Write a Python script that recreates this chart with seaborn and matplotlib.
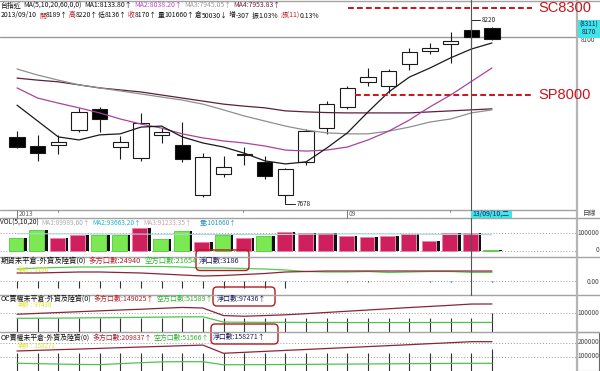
import numpy as np
import matplotlib
matplotlib.use("Agg")
import matplotlib.pyplot as plt
import seaborn as sns
from matplotlib.patches import FancyBboxPatch, Rectangle

# ---------------- data ----------------
candle_idx = list(range(24))
opens  = [7874, 7847, 7850, 7894, 7957, 7844, 7812, 7880, 7850, 7702, 7764, 7820,
          7800, 7702, 7800, 7900, 7963, 8037, 8025, 8090, 8128, 8149, 8189, 8196]
highs  = [7891, 7880, 7880, 7960, 7962, 7877, 7945, 7900, 7918, 7826, 7817, 7844,
          7817, 7782, 7897, 7980, 8025, 8078, 8075, 8137, 8152, 8184, 8220, 8198]
lows   = [7841, 7803, 7823, 7888, 7888, 7809, 7803, 7856, 7800, 7696, 7755, 7791,
          7749, 7678, 7791, 7883, 7957, 8025, 8004, 8072, 8119, 8093, 8136, 8160]
closes = [7844, 7826, 7859, 7948, 7927, 7859, 7915, 7888, 7809, 7815, 7785, 7823,
          7758, 7779, 7891, 7971, 8019, 8051, 8069, 8125, 8137, 8159, 8170, 8164]
prev_close_before_first = 7880

ma5  = [7968, 7921, 7874, 7865, 7880, 7883, 7903, 7906, 7874, 7856, 7844, 7826,
        7803, 7794, 7800, 7841, 7886, 7948, 8007, 8051, 8078, 8108, 8134, 8152]
ma10 = [8019, 7989, 7974, 7960, 7945, 7927, 7912, 7900, 7883, 7871, 7862, 7856,
        7847, 7835, 7832, 7835, 7844, 7865, 7891, 7924, 7963, 7998, 8038, 8078]
ma20 = [8075, 8057, 8042, 8028, 8019, 8010, 8001, 7992, 7983, 7971, 7954, 7936,
        7921, 7906, 7894, 7886, 7883, 7883, 7891, 7903, 7918, 7927, 7945, 7954]
ma60 = [8048, 8042, 8037, 8028, 8019, 8013, 8007, 7998, 7989, 7980, 7971, 7965,
        7960, 7951, 7948, 7946, 7945, 7945, 7945, 7945, 7948, 7951, 7954, 7957]

volume = [72000, 117000, 72000, 89000, 89000, 89000, 128000, 67000, 111000, 50000, 89000, 72000,
          83000, 105000, 100000, 100000, 83000, 78000, 83000, 94000, 56000, 100000, 101660, 3000]
vol_ma = [96000, 96000, 95000, 95000, 94000, 94000, 94000, 93000, 93000, 92000, 92000, 92000,
          92000, 92000, 93000, 94000, 95000, 95000, 95000, 94000, 93000, 92000, 93663, 90000]

fut_long  = [20000, 20000, 21250, 22500, 22500, 21250, 20000, 17500, 15000, 12500, 13750, 16250,
             18750, 22500, 23750, 25000, 25000, 25000, 25000, 25000, 25000, 25000, 24940, 24940]
fut_short = [30000, 32500, 33750, 35000, 35000, 36250, 36250, 36250, 35000, 32500, 32500, 31250,
             30000, 27500, 23750, 22500, 22500, 23750, 21250, 22500, 23750, 23750, 21654, 21654]
fut_tick  = [-17500, -17500, -17500, -17500, -17500, -17500, -17500, -17500, -17500, -17500, -17500, -17500,
             -17500, -17500, 0, 0, -1500, -1500, 0, 0, -1500, -1500, 0, -1500]

oc_long  = [95000, 99500, 104000, 108500, 113000, 117500, 121500, 126500, 131000, 128000, 88000, 84500,
            88000, 92000, 98000, 104500, 111000, 117500, 124000, 130500, 136500, 142500, 149025, 149400]
oc_short = [73500, 74000, 74500, 75500, 76500, 77500, 78500, 80000, 81000, 81500, 53500, 52500,
            52000, 52000, 51500, 51500, 51000, 51000, 51000, 51000, 51500, 51500, 51589, 51600]
oc_tick  = [75000, 75000, 75000, 75000, 75000, 75000, 75000, 75000, 75000, 75000, 75000, 75000,
            75000, 75000, 75000, 75000, 75000, 75000, 75000, 75000, 75000, 75000, 75000, 101600]

op_long  = [141700, 146500, 151500, 156000, 161000, 166000, 171000, 175500, 180500, 185000, 125000, 132000,
            139000, 146000, 153000, 160000, 167000, 174000, 181000, 188000, 195500, 202500, 209837, 210000]
op_short = [52000, 49000, 46000, 43500, 42000, 49000, 56000, 62000, 63500, 63500, 41000, 41500,
            42000, 43000, 44000, 45000, 46000, 47000, 48000, 49000, 50000, 51000, 51566, 51600]
op_tick  = [127000, 127000, 127000, 127000, 127000, 127000, 127000, 127000, 127000, 127000, 127000, 127000,
            127000, 127000, 127000, 127000, 127000, 127000, 127000, 127000, 127000, 127000, 127000, 156000]

# ---------------- setup ----------------
W, H = 600, 371
sns.set_style("white")
plt.rcParams['font.family'] = ['Noto Sans CJK TC', 'DejaVu Sans']
plt.rcParams['axes.unicode_minus'] = False

fig = plt.figure(figsize=(W / 100, H / 100), dpi=100)
fig.patch.set_facecolor('white')

X0_PX, STEP_PX, RIGHT_PX = 17.0, 20.65, 576.0
XL = -X0_PX / STEP_PX
XR = (RIGHT_PX - X0_PX) / STEP_PX
idx = np.array(candle_idx)


def panel(y0, y1):
    ax = fig.add_axes([0, 1 - y1 / H, RIGHT_PX / W, (y1 - y0) / H])
    ax.set_axis_off()
    return ax


def limits(ax, ylo, yhi):
    ax.set_xlim(XL, XR)
    ax.set_ylim(ylo, yhi)


def line(ax, ys, color, lw=0.9, z=4):
    sns.lineplot(x=idx, y=ys, ax=ax, color=color, lw=lw, zorder=z, legend=False,
                 sort=False, estimator=None)


# ---------------- main price chart ----------------
ax = panel(0, 210)
ax.axhline(8170, color='#9a9a9a', lw=1.0, zorder=1)
ax.vlines(idx, lows, highs, color='#1a1a1a', lw=0.8, zorder=2)
o = np.array(opens); c = np.array(closes)
bottom = np.minimum(o, c)
height = np.maximum(np.abs(c - o), 1.5)
fills = ['white' if cc >= oo else 'black' for oo, cc in zip(opens, closes)]
ax.bar(idx, height, bottom=bottom, width=0.74, color=fills, edgecolor='#1a1a1a',
       lw=0.8, zorder=3)
line(ax, ma60, '#5c1f3c')
line(ax, ma20, '#8f8f8f')
line(ax, ma10, '#a8449f')
line(ax, ma5, '#1a1a1a')
# high / low markers
i_hi = int(np.argmax(highs)); i_lo = int(np.argmin(lows))
ax.plot([i_hi, i_hi + 0.42], [highs[i_hi]] * 2, color='#222', lw=0.7, zorder=5)
ax.text(i_hi + 0.5, highs[i_hi], f"{highs[i_hi]}", fontsize=4.6, va='center', ha='left',
        color='#222', zorder=6)
ax.plot([i_lo, i_lo, i_lo + 0.47], [lows[i_lo], lows[i_lo] - 3, lows[i_lo] - 3], color='#222',
        lw=0.7, zorder=5)
ax.text(i_lo + 0.55, lows[i_lo] - 2, f"{lows[i_lo]}", fontsize=4.6, va='center', ha='left',
        color='#222', zorder=6)
limits(ax, 7657.6, 8279.2)

# ---------------- volume ----------------
axv = panel(218, 257)
axv.axhline(100000, color='#999', lw=0.7, ls=(0, (1, 2)), zorder=1)
axv.axhline(0, color='#999', lw=0.7, ls=(0, (1, 2)), zorder=1)
prev = [prev_close_before_first] + closes[:-1]
up = [cc >= pp for cc, pp in zip(closes, prev)]
vcol = ['#cf1f5c' if u else '#7bea52' for u in up]
vedge = ['#e884a6' if u else '#58c63e' for u in up]
axv.bar(idx - 0.05, volume, width=0.72, color=vcol, edgecolor=vedge, lw=0.6, zorder=2)
axv.bar(idx + 0.42, volume, width=0.12, color='#111', lw=0, zorder=2)
line(axv, vol_ma, '#a9d9dc', lw=0.8, z=3)
limits(axv, -33333, 183333)

# ---------------- futures OI ----------------
ax3 = panel(257, 295)
ax3.axhline(0, color='#999', lw=0.7, ls=(0, (1, 2)), zorder=1)
ax3.vlines(idx, np.array(fut_tick), 0, color='#333', lw=0.8, zorder=2)
line(ax3, fut_short, '#52cc52', lw=0.9)
line(ax3, fut_long, '#8b2434', lw=0.9)
limits(ax3, -35000, 60000)

# ---------------- call OI ----------------
ax4 = panel(295, 332)
ax4.axhline(100000, color='#999', lw=0.7, ls=(0, (1, 2)), zorder=1)
ax4.vlines(idx, 0, oc_tick, color='#333', lw=0.8, zorder=2)
line(ax4, oc_short, '#4cc44c', lw=0.9)
line(ax4, oc_long, '#8b2434', lw=0.9)
limits(ax4, 900, 196990)

# ---------------- put OI ----------------
ax5 = panel(332, 371)
ax5.axhline(200000, color='#999', lw=0.7, ls=(0, (1, 2)), zorder=1)
ax5.axhline(100000, color='#999', lw=0.7, ls=(0, (1, 2)), zorder=1)
ax5.vlines(idx, -4700, op_tick, color='#333', lw=0.8, zorder=2)
line(ax5, op_short, '#4cc44c', lw=0.9)
line(ax5, op_long, '#8b2434', lw=0.9)
limits(ax5, -4700, 280850)

# ---------------- overlay in pixel coordinates ----------------
ov = fig.add_axes([0, 0, 1, 1])
ov.set_xlim(0, W); ov.set_ylim(H, 0)
ov.set_axis_off(); ov.set_zorder(10)

G = '#a3a3a3'
for yy, x1 in [(0.5, 600), (210, 576), (218, 600), (257, 600), (295, 600), (332, 600)]:
    ov.plot([0, x1], [yy, yy], color=G, lw=1.0)
ov.plot([576.5, 576.5], [0, 371], color='#b5b5b5', lw=1.6)
ov.add_patch(Rectangle((576.5, 332), 22.5, 38.5, fill=False, ec='#666', lw=0.8))
# cursor
cursor_x = X0_PX + STEP_PX * 22
ov.plot([cursor_x, cursor_x], [0, 295], color='#555', lw=0.8)

renderer = fig.canvas.get_renderer()


def text_row(y, parts, x0, x1, size=5.0):
    def draw(sz):
        arts, x = [], x0
        for s, col, g in parts:
            t = ov.text(x, y, s, color=col, fontsize=sz, ha='left', va='center', clip_on=False)
            x += t.get_window_extent(renderer=renderer).width + g * sz * 100 / 72
            arts.append(t)
        return arts, x - x0
    arts, w = draw(size)
    for a in arts:
        a.remove()
    draw(size * (x1 - x0) / w)


K = '#111111'; R = '#b3202a'; GR = '#2fb52f'; NV = '#1c1c5c'
text_row(5.5, [("台指近", K, .35), ("MA(5,10,20,60,0,0)", K, .35), ("MA1:8133.80↑", K, .35),
               ("MA2:8038.20↑", '#c048b8', .3), ("MA3:7945.05↑", '#9a9a9a', .3),
               ("MA4:7953.83↑", '#6b1f3f', 0)], 0.5, 280)
text_row(15.5, [("2013/09/10", K, .35), ("開", R, 0), ("8189↑", K, .1), ("高", R, 0), ("8220↑", K, .1),
                ("低", K, 0), ("8136↑", K, .1), ("收", R, 0), ("8170↑", K, .1), ("量", K, 0),
                ("101660↑", K, .1), ("倉", K, 0), ("50030↓", K, .1), ("增", K, 0), ("-307", K, .35),
                ("振", K, 0), ("1.03%", K, .35), ("漲(11)", R, 0), ("0.13%", K, 0)], 0.5, 318)
text_row(222.5, [("VOL(5,10,20)", K, .4), ("MA1:89989.60↑", '#ababab', .4),
                 ("MA2:93663.20↑", '#1fb5c6', .3), ("MA3:91233.35↑", '#c9a2b4', 1.2),
                 ("量:101660↑", '#2a96be', 0)], 0.5, 235)
text_row(260.5, [("期貨未平倉-外資及陸資(0)", K, .4), ("多方口數:24940", R, .4),
                 ("空方口數:21654", GR, .4), ("淨口數:3186", NV, 0)], 0.5, 241)
text_row(298.5, [("OC買權未平倉-外資及陸資(0)", K, .4), ("多方口數:149025↑", R, .3),
                 ("空方口數:51589↑", GR, .6), ("淨口數:97436↑", NV, 0)], 0.5, 268)
text_row(337.5, [("OP賣權未平倉-外資及陸資(0)", K, .4), ("多方口數:209837↑", R, .3),
                 ("空方口數:51566↑", GR, .5), ("淨口數:158271↑", NV, 0)], 0.5, 268)

Y = '#e2e22a'
ov.text(17, 270, "淨額：3186", color=Y, fontsize=4.4, va='center', ha='left')
ov.text(17, 305, "淨額：97436", color=Y, fontsize=4.4, va='center', ha='left')
ov.text(17, 346, "淨額：158271", color=Y, fontsize=4.4, va='center', ha='left')

# rounded highlight boxes
for (bx0, by0, bx1, by1) in [(196, 250, 249, 270.5), (213, 287, 275, 306), (211, 324, 278, 344)]:
    ov.add_patch(FancyBboxPatch((bx0 + 4, by0 + 4), bx1 - bx0 - 8, by1 - by0 - 8,
                                boxstyle="round,pad=4", fc='none', ec='#b01c22', lw=1.0))

# right-side labels
RL = '#444444'
for yy, s in [(233, "100000"), (250, "0"), (282, "0.00"), (313, "100000"), (342.5, "200000"),
              (356.5, "100000")]:
    ov.text(599, yy, s, color=RL, fontsize=4.6, ha='right', va='center')
ov.text(588, 40.5, "8100", color=RL, fontsize=4.6, ha='center', va='center', zorder=1)
ov.add_patch(Rectangle((577.5, 20), 22.5, 17.5, fc='#3fe6e6', ec='none', zorder=2))
ov.text(588.5, 24.5, "(8311)", color=NV, fontsize=4.6, ha='center', va='center', zorder=3)
ov.text(588.5, 32.5, "8170", color=NV, fontsize=4.6, ha='center', va='center', zorder=3)
ov.text(590, 213.5, "日線", color=RL, fontsize=4.8, ha='center', va='center')

# date row
ov.plot([17, 17], [210, 218], color='#777', lw=0.7)
ov.text(18.5, 214, "2013", color='#666', fontsize=4.8, ha='left', va='center')
ov.plot([347, 347], [210, 218], color='#777', lw=0.7)
ov.text(349, 214, "09", color='#666', fontsize=4.8, ha='left', va='center')
for tx in [58, 243, 450]:
    ov.plot([tx, tx], [210, 212], color='#777', lw=0.6)
ov.add_patch(Rectangle((cursor_x, 210.5), 41, 7, fc='#3fe6e6', ec='none', zorder=2))
ov.text(cursor_x + 1, 214, "13/09/10,二", color=NV, fontsize=4.9, ha='left', va='center', zorder=3)

# hand annotations
DR = '#c8141c'
ov.plot([348, 532], [7.5, 7.5], color=DR, lw=1.4, ls=(0, (3, 1.6)))
ov.plot([355, 533], [94.5, 94.5], color=DR, lw=1.4, ls=(0, (3, 1.6)))
ov.text(538, 8.5, "SC8300", color=DR, fontsize=10.5, family='Liberation Sans',
        ha='left', va='center')
ov.text(538, 95, "SP8000", color=DR, fontsize=10.5, family='Liberation Sans',
        ha='left', va='center')

fig.savefig("out.png", dpi=100, facecolor='white')
